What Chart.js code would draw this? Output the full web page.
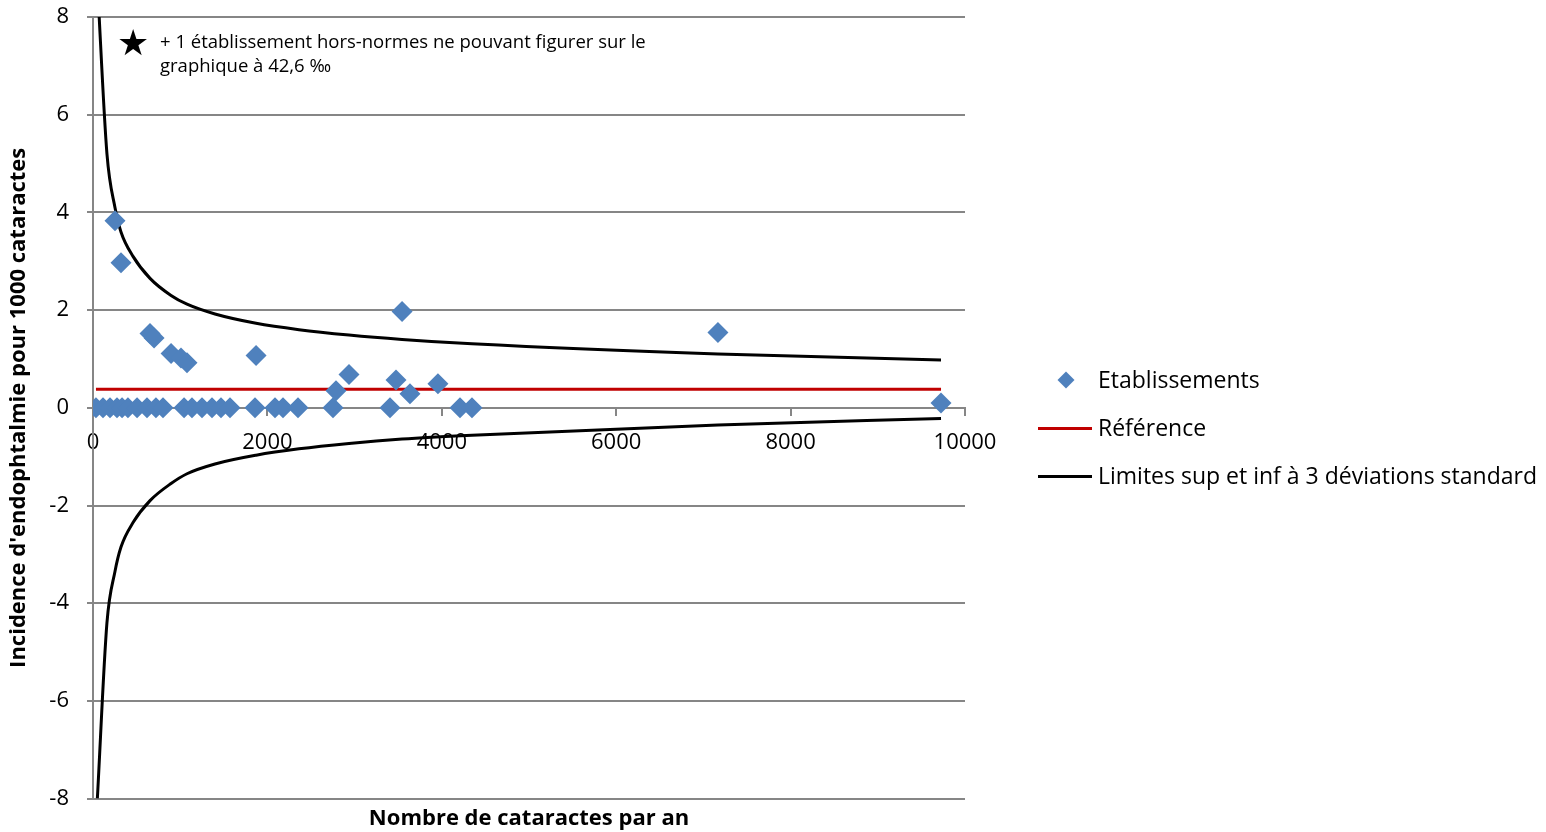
<!DOCTYPE html>
<html>
<head>
<meta charset="utf-8">
<script src="https://cdn.jsdelivr.net/npm/chart.js@4.4.0/dist/chart.umd.min.js"></script>
<style>
  html, body { margin: 0; padding: 0; background: #fff; }
  #wrap { position: relative; width: 1546px; height: 832px; }
  canvas { display: block; }
  .note { position: absolute; left: 160px; top: 29px; font-family: "Open Sans", Lato, sans-serif; font-size: 18.5px; line-height: 24px; color: #000; white-space: nowrap; }
  .star { position: absolute; left: 117px; top: 23px; font-size: 36px; line-height: 40px; color: #000; font-family: "DejaVu Sans", sans-serif; }
  .legend { position: absolute; left: 1038px; top: 362px; font-family: "Open Sans", Lato, sans-serif; font-size: 23px; color: #000; }
  .legend .item { position: relative; height: 48px; line-height: 34px; padding-left: 60px; white-space: nowrap; }
  .legend .diam { position: absolute; left: 22px; top: 12px; width: 12px; height: 12px; background: #4F81BD; transform: rotate(45deg); }
  .legend .ln { position: absolute; left: 0; top: 17px; width: 54px; height: 3px; }
</style>
</head>
<body>
<div id="wrap">
  <canvas id="c" width="1546" height="832"></canvas>
  <div class="star">★</div>
  <div class="note">+ 1 établissement hors-normes ne pouvant figurer sur le<br>graphique à 42,6 ‰</div>
  <div class="legend">
    <div class="item"><span class="diam"></span>Etablissements</div>
    <div class="item"><span class="ln" style="background:#C00000"></span>Référence</div>
    <div class="item"><span class="ln" style="background:#000"></span>Limites sup et inf à 3 déviations standard</div>
  </div>
</div>
<script>
// Establishments: number of cataracts per year (x) and incidence per 1000 (y)
const estabX = [34, 115, 195, 275, 333, 401, 505, 619, 722, 803, 1044, 1135, 1250, 1365, 1468, 1571, 1858, 2087, 2179, 2351, 2752, 3406, 4209, 4346,
                252, 321, 654, 700, 895, 1009, 1078, 1870, 2787, 2936, 3475, 3544, 3635, 3956, 7167, 9725];
const estabY = [0, 0, 0, 0, 0, 0, 0, 0, 0, 0, 0, 0, 0, 0, 0, 0, 0, 0, 0, 0, 0, 0, 0, 0,
                3.83, 2.97, 1.52, 1.43, 1.11, 1.02, 0.92, 1.07, 0.35, 0.68, 0.57, 1.97, 0.29, 0.49, 1.54, 0.10];
// Reference line
const refX = [34, 9725];
const refY = [0.38, 0.38];
// Control limits
const limX = [50, 160, 252, 321, 459, 654, 895, 1078, 1399, 1870, 2362, 2936, 3544, 4346, 7167, 9725];
const limUp = [8.7, 5.2, 4.1, 3.6, 3.1, 2.65, 2.3, 2.12, 1.92, 1.73, 1.6, 1.49, 1.4, 1.31, 1.1, 0.98];
const limLo = [-8.0, -4.4, -3.35, -2.85, -2.35, -1.9, -1.55, -1.35, -1.15, -0.97, -0.84, -0.73, -0.64, -0.56, -0.35, -0.22];
// Tick labels
const xTicks = [0, 2000, 4000, 6000, 8000, 10000];
const yTicks = [-8, -6, -4, -2, 0, 2, 4, 6, 8];

const pts = (xs, ys) => xs.map((x, i) => ({x: x, y: ys[i]}));
const FONT = '"Open Sans", Lato, sans-serif';
const GRID = '#868686';

new Chart(document.getElementById('c'), {
  type: 'scatter',
  data: {
    datasets: [
      { label: 'Limites sup', data: pts(limX, limUp), showLine: true, borderColor: '#000', borderWidth: 3, pointRadius: 0, cubicInterpolationMode: 'monotone', order: 3 },
      { label: 'Limites inf', data: pts(limX, limLo), showLine: true, borderColor: '#000', borderWidth: 3, pointRadius: 0, cubicInterpolationMode: 'monotone', order: 3 },
      { label: 'Référence', data: pts(refX, refY), showLine: true, borderColor: '#C00000', borderWidth: 3, pointRadius: 0, order: 2 },
      { label: 'Etablissements', data: pts(estabX, estabY), pointStyle: 'rectRot', pointRadius: 10.5, pointHoverRadius: 10.5, backgroundColor: '#4F81BD', borderColor: '#4F81BD', borderWidth: 0, order: 1 }
    ]
  },
  options: {
    responsive: false,
    animation: false,
    layout: { padding: { top: 17, right: 581, left: 0, bottom: 0 } },
    plugins: {
      legend: { display: false },
      tooltip: { enabled: false },
      title: {
        display: true, position: 'bottom', fullSize: false,
        text: 'Nombre de cataractes par an',
        color: '#000', font: { family: FONT, size: 22, weight: 'bold' },
        padding: { top: 7, bottom: 0 }
      }
    },
    scales: {
      x: {
        type: 'linear', min: 0, max: 10000,
        position: { y: 0 },
        afterBuildTicks: (s) => { s.ticks = xTicks.map(v => ({value: v})); },
        ticks: { color: '#000', font: { family: FONT, size: 22 }, padding: 15, maxRotation: 0, callback: (v) => String(v) },
        grid: { display: true, drawOnChartArea: false, drawTicks: true, tickLength: 7, color: GRID, lineWidth: 2 },
        border: { display: true, color: GRID, width: 2 }
      },
      y: {
        type: 'linear', min: -8, max: 8,
        afterFit: (s) => { s.width = 93; s.paddingTop = 10; s.paddingBottom = 10; },
        afterBuildTicks: (s) => { s.ticks = yTicks.map(v => ({value: v})); },
        ticks: { color: '#000', font: { family: FONT, size: 22 }, padding: 18, callback: (v) => String(v) },
        grid: { display: true, color: GRID, lineWidth: 2, tickLength: 6, drawTicks: true },
        border: { display: true, color: GRID, width: 2 },
        title: { display: true, text: "Incidence d'endophtalmie pour 1000 cataractes", color: '#000', font: { family: FONT, size: 22, weight: 'bold' }, padding: { top: 6, bottom: 0 } }
      }
    }
  }
});
</script>
</body>
</html>
